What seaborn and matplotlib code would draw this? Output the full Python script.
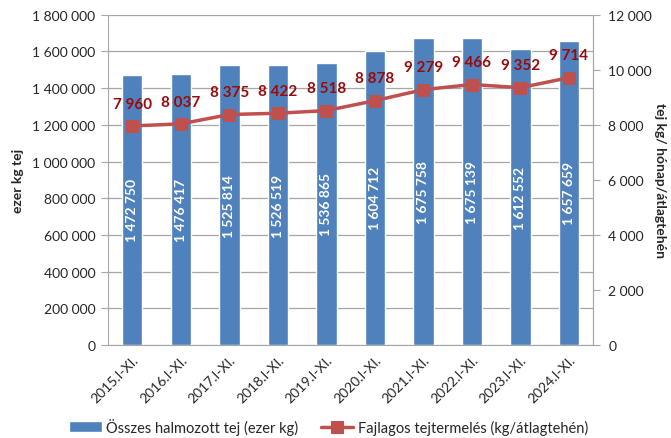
import numpy as np
import pandas as pd
import matplotlib
matplotlib.use("Agg")
import matplotlib.pyplot as plt
import seaborn as sns

# ── Data ──────────────────────────────────────────────────────────────────────
periods = ["2015.I-XI.", "2016.I-XI.", "2017.I-XI.", "2018.I-XI.", "2019.I-XI.",
           "2020.I-XI.", "2021.I-XI.", "2022.I-XI.", "2023.I-XI.", "2024.I-XI."]
total_milk = [1472750, 1476417, 1525814, 1526519, 1536865,
              1604712, 1675758, 1675139, 1612552, 1657659]
per_cow = [7960, 8037, 8375, 8422, 8518, 8878, 9279, 9466, 9352, 9714]

bar_label = "Összes halmozott tej (ezer kg)"
line_label = "Fajlagos tejtermelés (kg/átlagtehén)"


def hu(v):
    return f"{v:,.0f}".replace(",", " ")


df = pd.DataFrame({"period": periods, "total": total_milk, "per_cow": per_cow})
df["pos"] = np.arange(len(df))

# ── Style ─────────────────────────────────────────────────────────────────────
sns.set_style("white")
plt.rcParams["font.family"] = ["Lato", "DejaVu Sans"]

BAR = "#4F81BD"
LINE = "#C0504D"
LBL = "#9A0A0A"
GRID = "#A6A6A6"
FS = 10

fig = plt.figure(figsize=(6.71, 4.39), dpi=100)
ax = fig.add_axes([0.161, 0.212, 0.723, 0.752])

sns.barplot(data=df, x="period", y="total", color=BAR, width=0.42,
            saturation=1, ax=ax, label=bar_label, zorder=2)
h1, l1 = ax.get_legend_handles_labels()
if ax.get_legend() is not None:
    ax.get_legend().remove()

ax.set_ylim(0, 1800000)
ax.set_yticks(np.arange(0, 1800001, 200000))
ax.set_yticklabels([hu(v) for v in ax.get_yticks()], fontsize=FS)
ax.yaxis.grid(True, color=GRID, lw=0.9, zorder=0)
ax.set_axisbelow(True)
ax.set_xlim(-0.5, len(df) - 0.5)
ax.set_xlabel("")
ax.set_ylabel("ezer kg tej", fontsize=FS, fontweight="bold", labelpad=6)

for p, v in zip(df["pos"], df["total"]):
    ax.text(p, v / 2, hu(v), rotation=90, ha="center", va="center",
            color="white", fontsize=FS, fontweight="bold", zorder=4)

# x ticks: labels at centres, marks at boundaries
ax.set_xticks(df["pos"])
ax.set_xticklabels(periods, rotation=45, ha="right", rotation_mode="anchor",
                   fontsize=FS)
ax.tick_params(axis="x", which="major", length=0, pad=6)
ax.set_xticks(np.arange(-0.5, len(df), 1), minor=True)
ax.tick_params(axis="x", which="minor", length=5, color=GRID, direction="out")
ax.tick_params(axis="y", length=5, color=GRID, direction="out", pad=4)

ax.spines["top"].set_visible(False)
for s in ["left", "bottom", "right"]:
    ax.spines[s].set_color(GRID)

# ── Secondary axis ────────────────────────────────────────────────────────────
ax2 = ax.twinx()
sns.lineplot(data=df, x="pos", y="per_cow", color=LINE, lw=2.5, marker="s",
             markersize=9, markeredgecolor=LINE, ax=ax2, label=line_label,
             legend=False, zorder=5)
ax2.set_ylim(0, 12000)
ax2.set_yticks(np.arange(0, 12001, 2000))
ax2.set_yticklabels([hu(v) for v in ax2.get_yticks()], fontsize=FS)
ax2.set_ylabel("tej kg/ hónap/átlagtehén", fontsize=FS, fontweight="bold",
               rotation=-90, labelpad=10)
ax2.tick_params(axis="y", length=5, color=GRID, direction="out", pad=6)
ax2.set_xlim(-0.5, len(df) - 0.5)
ax2.set_xlabel("")
for s in ["top", "left", "bottom"]:
    ax2.spines[s].set_visible(False)
ax2.spines["right"].set_color(GRID)

for p, v in zip(df["pos"], df["per_cow"]):
    ax2.annotate(hu(v), (p, v), xytext=(0, 11), textcoords="offset points",
                 ha="center", va="bottom", color=LBL, fontsize=FS + 1,
                 fontweight="bold")

# ── Legend ────────────────────────────────────────────────────────────────────
h2, l2 = ax2.get_legend_handles_labels()
fig.legend(h1 + h2, l1 + l2, loc="center", bbox_to_anchor=(0.49, 0.027),
           ncol=2, frameon=False, fontsize=FS + 0.5, handlelength=2.2,
           columnspacing=1.6, handletextpad=0.3)

fig.savefig("out.png", dpi=100)
